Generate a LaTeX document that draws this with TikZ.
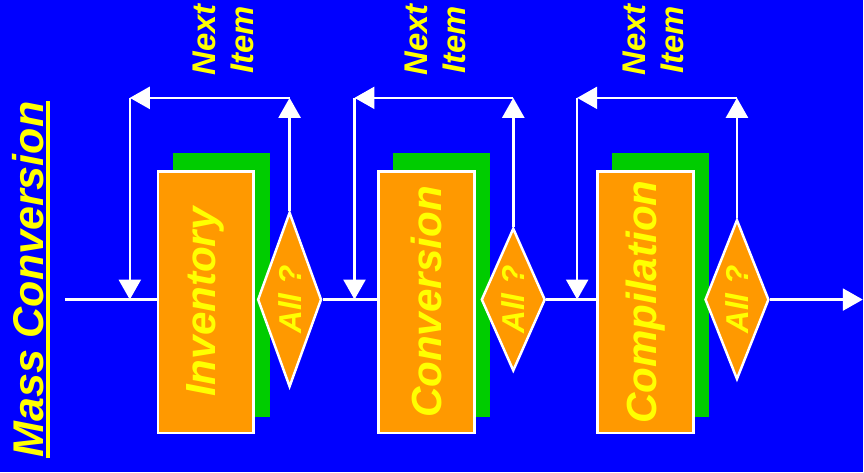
\documentclass[tikz,border=0pt]{standalone}
\usepackage{fontspec}
\setmainfont{Liberation Sans}
\usetikzlibrary{arrows.meta,shapes.geometric}

\definecolor{bgblue}{RGB}{0,0,255}
\definecolor{boxorange}{RGB}{255,153,0}
\definecolor{backgreen}{RGB}{0,204,0}
\definecolor{labelyellow}{RGB}{255,255,0}

\tikzset{
  stage/.style={draw=white, line width=1.4pt, fill=boxorange, inner sep=0,
    minimum width=1.92cm, minimum height=5.24cm, text=labelyellow,
    font=\fontsize{24}{28}\selectfont\bfseries\itshape},
  greenback/.style={fill=backgreen, inner sep=0, minimum width=1.94cm, minimum height=5.3cm},
  check/.style={diamond, draw=white, line width=1.4pt, fill=boxorange, inner sep=0,
    aspect=0.37, minimum width=1.28cm, text=labelyellow,
    font=\fontsize{18}{21}\selectfont\bfseries\itshape},
  flow/.style={draw=white, line width=1.4pt},
  flowarrow/.style={flow, -{Triangle[length=0.4cm,width=0.44cm]}},
  nextnote/.style={rotate=90, align=center, inner sep=0, text=labelyellow,
    font=\fontsize{18.7}{21.5}\selectfont\bfseries\itshape},
}

\begin{document}
\begin{tikzpicture}[x=0.02cm, y=-0.02cm]
    \fill[bgblue] (0,0) rectangle (864,473);

    \node[rotate=90, anchor=south, inner sep=0, text=labelyellow,
      font=\fontsize{24.5}{28}\selectfont\bfseries\itshape] (title) at (44,280) {Mass Conversion};
    \draw[labelyellow, line width=1.8pt] ([xshift=0.08cm]title.south west) -- ([xshift=0.08cm]title.south east);

    \coordinate (start) at (65,300);
    \coordinate (finish) at (864,300);

    \node[greenback] (g1) at (221.5,285.5) {};
    \node[greenback] (g2) at (442.5,285.5) {};
    \node[greenback] (g3) at (661.5,285.5) {};

    \node[stage] (inventory) at (206,302.5) {\rotatebox{90}{Inventory}};
    \node[stage] (conversion) at (427,302.5) {\rotatebox{90}{Conversion}};
    \node[stage] (compilation) at (646.5,302.5) {\rotatebox{90}{Compilation}};

    \node[check, minimum height=3.5cm] (all1) at (290,300) {\rotatebox{90}{All ?}};
    \node[check, minimum height=2.86cm] (all2) at (514,300) {\rotatebox{90}{All ?}};
    \node[check, minimum height=3.2cm] (all3) at (738,300) {\rotatebox{90}{All ?}};

    \coordinate (top1) at (290,98);
    \coordinate (corner1) at (130,98);
    \coordinate (join1) at (130,300);
    \coordinate (top2) at (514,98);
    \coordinate (corner2) at (355,98);
    \coordinate (join2) at (355,300);
    \coordinate (top3) at (738,98);
    \coordinate (corner3) at (578,98);
    \coordinate (join3) at (578,300);

    \node[nextnote] (next1) at (224,40) {Next\\Item};
    \node[nextnote] (next2) at (436,40) {Next\\Item};
    \node[nextnote] (next3) at (654,40) {Next\\Item};

    \draw[flow] (start) -- (start -| inventory.west);
    \draw[flow] (all1.east) -- (all1.east -| conversion.west);
    \draw[flow] (all2.east) -- (all2.east -| compilation.west);
    \draw[flowarrow] (all3.east) -- (finish);

    \draw[flowarrow] (all1.north) -- (top1);
    \draw[flowarrow] (top1) -- (corner1);
    \draw[flowarrow] (corner1) -- (join1);
    \draw[flowarrow] (all2.north) -- (top2);
    \draw[flowarrow] (top2) -- (corner2);
    \draw[flowarrow] (corner2) -- (join2);
    \draw[flowarrow] (all3.north) -- (top3);
    \draw[flowarrow] (top3) -- (corner3);
    \draw[flowarrow] (corner3) -- (join3);
\end{tikzpicture}
\end{document}
